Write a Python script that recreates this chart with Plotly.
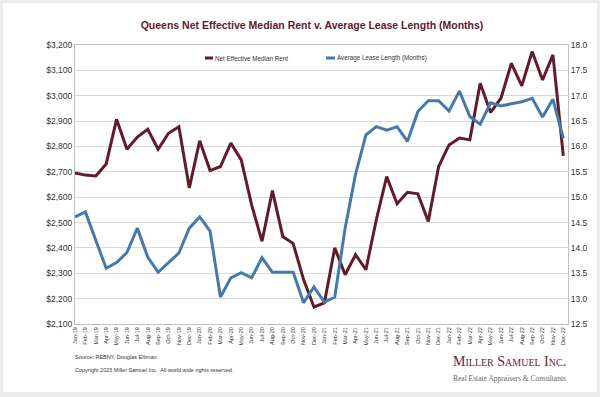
import plotly.graph_objects as go

months = ["Jan-19","Feb-19","Mar-19","Apr-19","May-19","Jun-19","Jul-19","Aug-19","Sep-19","Oct-19","Nov-19","Dec-19",
          "Jan-20","Feb-20","Mar-20","Apr-20","May-20","Jun-20","Jul-20","Aug-20","Sep-20","Oct-20","Nov-20","Dec-20",
          "Jan-21","Feb-21","Mar-21","Apr-21","May-21","Jun-21","Jul-21","Aug-21","Sep-21","Oct-21","Nov-21","Dec-21",
          "Jan-22","Feb-22","Mar-22","Apr-22","May-22","Jun-22","Jul-22","Aug-22","Sep-22","Oct-22","Nov-22","Dec-22"]

net_effective_rent = [2695, 2687, 2684, 2731, 2907, 2789, 2837, 2868, 2789, 2852, 2878, 2636,
                      2822, 2705, 2721, 2813, 2747, 2570, 2426, 2626, 2445, 2417, 2275, 2167,
                      2183, 2400, 2294, 2373, 2314, 2511, 2681, 2574, 2619, 2613, 2504, 2721,
                      2806, 2833, 2826, 3049, 2934, 2990, 3128, 3039, 3174, 3062, 3161, 2763]

avg_lease_length = [14.61, 14.71, 14.15, 13.60, 13.71, 13.91, 14.39, 13.82, 13.52, 13.71, 13.90, 14.39,
                    14.61, 14.33, 13.03, 13.41, 13.51, 13.41, 13.81, 13.52, 13.52, 13.52, 12.92, 13.23,
                    12.93, 13.03, 14.39, 15.45, 16.23, 16.39, 16.32, 16.39, 16.10, 16.69, 16.90, 16.90,
                    16.70, 17.09, 16.59, 16.44, 16.86, 16.80, 16.84, 16.88, 16.95, 16.58, 16.93, 16.16]

rent_name = "Net Effective Median Rent"
lease_name = "Average Lease Length (Months)"
title_text = "Queens Net Effective Median Rent v. Average Lease Length (Months)"

RED = "#631b2b"
BLUE = "#4679ab"
GRID = "#d9d9d9"
AXIS = "#bfbfbf"
FONT = "Liberation Sans, Arial, sans-serif"

fig = go.Figure()
fig.add_trace(go.Scatter(x=months, y=net_effective_rent, name=rent_name, mode="lines",
                         line=dict(color=RED, width=3), yaxis="y"))
fig.add_trace(go.Scatter(x=months, y=avg_lease_length, name=lease_name, mode="lines",
                         line=dict(color=BLUE, width=3), yaxis="y2"))

L, R, T, B = 75, 32, 45, 73
PW, PH = 600 - L - R, 397 - T - B

def px(x):
    return (x - L) / PW

def py(y):
    return (397 - B - y) / PH

fig.update_layout(
    width=600, height=397,
    margin=dict(l=L, r=R, t=T, b=B),
    paper_bgcolor="#ececec",
    plot_bgcolor="white",
    showlegend=False,
    font=dict(family=FONT, color="#333333"),
    title=dict(text="<b>" + title_text + "</b>", x=312/600, xanchor="center",
               y=1 - 25/397, yanchor="middle", font=dict(size=10.5, color="#5e1a2c", family=FONT)),
    xaxis=dict(type="category", range=[0, 47.45], showgrid=False, showline=True, linecolor=AXIS,
               linewidth=1, mirror=True, tickangle=-90, tickfont=dict(size=5.5, color="#333333"),
               ticks="", ticklen=0),
    yaxis=dict(range=[2100, 3200], dtick=100, tickprefix="$", tickformat=",d", showgrid=True,
               gridcolor=GRID, gridwidth=1, showline=True, linecolor=AXIS, zeroline=False,
               tickfont=dict(size=8.5, color="#333333"), ticks=""),
    yaxis2=dict(range=[12.5, 18], dtick=0.5, tickformat=".1f", overlaying="y", side="right",
                showgrid=False, showline=True, linecolor=AXIS, zeroline=False,
                tickfont=dict(size=8.5, color="#333333"), ticks=""),
    separators=".,",
)

shapes = [
    dict(type="rect", xref="paper", yref="paper", x0=px(3), x1=px(597), y0=py(392), y1=py(3),
         fillcolor="white", line=dict(width=0), layer="below"),
    dict(type="line", xref="paper", yref="paper", x0=px(205), x1=px(213), y0=py(58), y1=py(58),
         line=dict(color=RED, width=3)),
    dict(type="line", xref="paper", yref="paper", x0=px(326), x1=px(335), y0=py(58), y1=py(58),
         line=dict(color=BLUE, width=3)),
]
fig.update_layout(shapes=shapes)

annotations = [
    dict(text=rent_name, x=px(213), y=py(58), xanchor="left", yanchor="middle",
         font=dict(size=6.3, color="#333333")),
    dict(text=lease_name, x=px(335), y=py(58), xanchor="left", yanchor="middle",
         font=dict(size=6.3, color="#333333")),
    dict(text="Source: REBNY, Douglas Elliman", x=px(73), y=py(357), xanchor="left", yanchor="middle",
         font=dict(size=5.5, color="#333333")),
    dict(text="Copyright 2023 Miller Samuel Inc.  All world wide rights reserved.", x=px(73), y=py(370),
         xanchor="left", yanchor="middle", font=dict(size=5.5, color="#333333")),
    dict(text="Miller Samuel Inc.", x=px(568), y=py(361), xanchor="right", yanchor="middle",
         font=dict(size=14, color="#6b2233", family="Liberation Serif, Times New Roman, serif",
                   variant="small-caps")),
    dict(text="Real Estate Appraisers &amp; Consultants", x=px(568), y=py(378), xanchor="right",
         yanchor="middle", font=dict(size=7.5, color="#666666",
                                     family="Liberation Serif, Times New Roman, serif")),
]
for a in annotations:
    a.update(xref="paper", yref="paper", showarrow=False)
fig.update_layout(annotations=annotations)

fig.write_html("out.html", config={"displayModeBar": False},
               post_script="document.body.style.margin='0px';document.body.style.overflow='hidden';")
